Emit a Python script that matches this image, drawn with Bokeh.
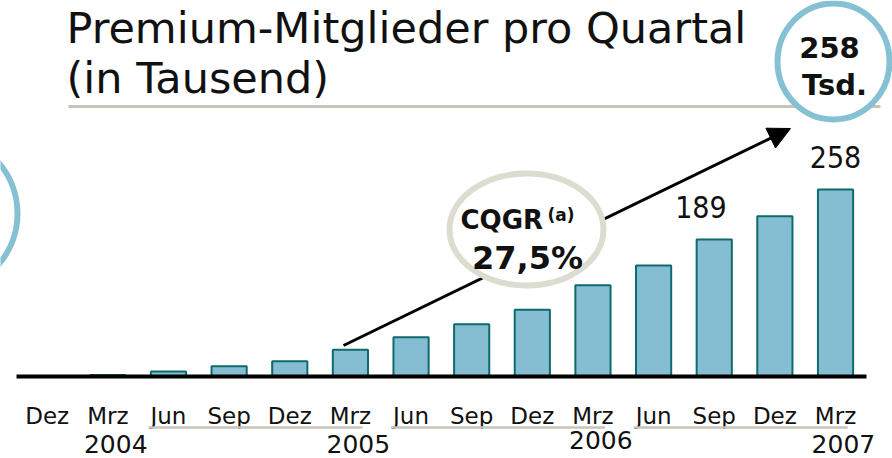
from bokeh.plotting import figure
from bokeh.models import Range1d, Arrow, NormalHead
from bokeh.core.properties import value
from bokeh.embed import file_html
from bokeh.resources import INLINE

# ---- data ----
months = ["Dez", "Mrz", "Jun", "Sep", "Dez", "Mrz", "Jun", "Sep", "Dez", "Mrz", "Jun", "Sep", "Dez", "Mrz"]
members = [0, 2, 7, 14, 21, 37, 54, 72, 92, 126, 153, 189, 221, 258]
years = ["2004", "2005", "2006", "2007"]
year_idx = [1, 5, 9, 13]
labelled_idx = [11, 13]
title_lines = ["Premium-Mitglieder pro Quartal", "(in Tausend)"]
cqgr_label = "CQGR"
cqgr_note = "(a)"
cqgr_value = "27,5%"
badge_lines = ["258", "Tsd."]

W, H = 892, 458
X0, DX = 46.7, 60.64
BASE, K = 376.0, 258 / 187.0

def cx(px):
    return (px - X0) / DX

def cy(py):
    return (BASE - py) * K

FONT = value("DejaVu Sans")
FONTC = value("DejaVu Sans Condensed")
INK = "#111111"

p = figure(width=W, height=H, output_backend="svg", toolbar_location=None,
           x_range=Range1d(cx(0), cx(W)), y_range=Range1d(cy(H), cy(0)),
           min_border=0, min_border_left=0, min_border_right=0,
           min_border_top=0, min_border_bottom=0)
p.axis.visible = False
p.grid.visible = False
p.outline_line_color = None
p.background_fill_color = "white"
p.border_fill_color = "white"

xs = list(range(len(months)))

# title
p.text(x=[cx(66)], y=[cy(27)], text=[title_lines[0]], text_font=FONT, text_font_size="43px",
       text_baseline="middle", text_align="left", text_color=INK)
p.text(x=[cx(66)], y=[cy(77)], text=[title_lines[1]], text_font=FONT, text_font_size="43px",
       text_baseline="middle", text_align="left", text_color=INK)
p.segment(x0=[cx(68)], y0=[cy(106)], x1=[cx(880)], y1=[cy(106)], line_color="#c8c4bc", line_width=3)

# badge circles
p.ellipse(x=[cx(833)], y=[cy(61)], width=112, height=116, width_units="screen", height_units="screen",
          fill_color="white", line_color="#86c0d3", line_width=6)
p.text(x=[cx(829)], y=[cy(47)], text=[badge_lines[0]], text_font=FONT, text_font_style="bold",
       text_font_size="29px", text_baseline="middle", text_align="center", text_color=INK)
p.text(x=[cx(834)], y=[cy(84)], text=[badge_lines[1]], text_font=FONT, text_font_style="bold",
       text_font_size="29px", text_baseline="middle", text_align="center", text_color=INK)
p.ellipse(x=[cx(-61)], y=[cy(213)], width=156, height=156, width_units="screen", height_units="screen",
          fill_color=None, line_color="#86c0d3", line_width=6)

# arrow (under the CQGR ellipse)
arrow = Arrow(x_start=cx(343), y_start=cy(345), x_end=cx(790), y_end=cy(128),
              line_color="black", line_width=3,
              end=NormalHead(size=22, fill_color="black", line_color="black"))
arrow.level = "underlay"
p.add_layout(arrow)

# bars
p.rect(x=[1], y=[cy(374.5) / 2], width=1.0, height=cy(374.5), fill_color="#bdb8ae", line_color=None)
p.vbar(x=xs, top=members, bottom=0, width=0.58, fill_color="#85bed2", line_color="#0e6b6b", line_width=2)

# baseline
p.segment(x0=[cx(16)], y0=[0], x1=[cx(866)], y1=[0], line_color="black", line_width=4)

# value labels
for i, dx in zip(labelled_idx, [-0.22, 0.0]):
    p.text(x=[i + dx], y=[members[i]], y_offset=-33, text=[str(members[i])], text_font=FONTC,
           text_font_size="30px", text_baseline="middle", text_align="center", text_color=INK)

# CQGR ellipse
p.ellipse(x=[cx(526)], y=[cy(229)], width=154, height=112, width_units="screen", height_units="screen",
          fill_color="white", line_color="#dcdcd0", line_width=6)
p.text(x=[cx(460)], y=[cy(219)], text=[cqgr_label], text_font=FONT, text_font_style="bold",
       text_font_size="26px", text_baseline="middle", text_align="left", text_color=INK)
p.text(x=[cx(547)], y=[cy(214)], text=[cqgr_note], text_font=FONT, text_font_style="bold",
       text_font_size="17px", text_baseline="middle", text_align="left", text_color=INK)
p.text(x=[cx(527)], y=[cy(257)], text=[cqgr_value], text_font=FONT, text_font_style="bold",
       text_font_size="32px", text_baseline="middle", text_align="center", text_color=INK)

# month labels
p.text(x=xs, y=[cy(415)] * len(xs), text=months, text_font=FONT, text_font_size="23px",
       text_baseline="middle", text_align="center", text_color=INK)
# group underlines
for a, b in [(2, 5), (6, 9), (10, 13)]:
    p.segment(x0=[a - 0.33], y0=[cy(427)], x1=[b + 0.2], y1=[cy(427)], line_color="#c8c4bc", line_width=2.5)
# year labels
for yr, i, py in zip(years, year_idx, [443, 443, 439, 443]):
    p.text(x=[i + 0.13], y=[cy(py)], text=[yr], text_font=FONT, text_font_size="25px",
           text_baseline="middle", text_align="center", text_color=INK)

open("out.html", "w").write(file_html(p, INLINE))
